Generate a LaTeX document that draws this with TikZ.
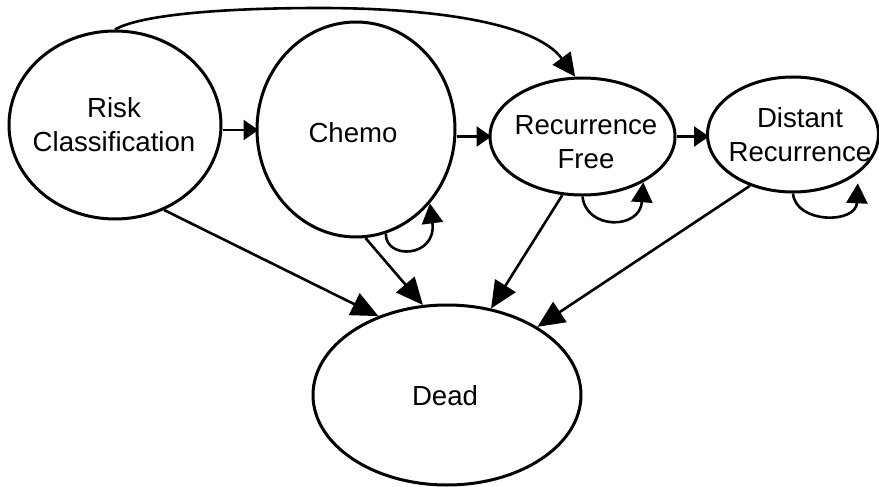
\documentclass[tikz,border=0pt]{standalone}
\usepackage{fontspec}
\setmainfont{Liberation Sans}
\usetikzlibrary{arrows.meta,shapes.geometric,calc}
\pgfdeclarelayer{background}
\pgfsetlayers{background,main}
\begin{document}
\begin{tikzpicture}[x=1pt,y=-1pt,
  state/.style={ellipse,draw=black,line width=3pt,fill=white,inner sep=0pt},
  lbl/.style={font=\fontsize{27.6pt}{34pt}\selectfont,align=center,inner sep=0pt,text=black},
  conn/.style={line width=2.6pt,draw=black},
  htip/.style={conn,-{Triangle[length=15pt,width=20pt]},shorten >=-3pt},
  dtip/.style={conn,-{Triangle[length=27pt,width=24pt]}},
  ctip/.style={conn,-{Triangle[length=23pt,width=22pt]}},
  ltip/.style={conn,-{Triangle[length=20pt,width=21pt]}}
]
\useasboundingbox (0,0) rectangle (879,487);

% states
\node[state,minimum width=212pt,minimum height=188pt] (risk) at (115,125) {};
\node[state,minimum width=198pt,minimum height=215pt] (chemo) at (356,129.5) {};
\node[state,minimum width=185pt,minimum height=117pt] (rf) at (582.5,136.5) {};
\node[state,minimum width=171pt,minimum height=115pt] (dr) at (793,134.5) {};
\node[state,minimum width=268pt,minimum height=180pt] (dead) at (447,395) {};

% labels
\node[lbl] (riskT) at (114,125) {Risk\\Classification};
\node[lbl] (chemoT) at (353,132.5) {Chemo};
\node[lbl] (rfT) at (586,142.5) {Recurrence\\Free};
\node[lbl] (drT) at (800,135) {Distant\\Recurrence};
\node[lbl] (deadT) at (445,396) {Dead};

\coordinate (arcTop) at (320,8);

\begin{pgfonlayer}{background}
  \fill[white] (0,0) rectangle (879,487);
  % horizontal transitions
  \draw[htip] ([yshift=-5pt]risk.east) -- ([yshift=-0.5pt]chemo.west);
  \draw[htip] (chemo.east |- rf.west) -- (rf.west);
  \draw[htip] (rf.east) -- (dr.west |- rf.east);
  % long arc
  \draw[ctip] (risk.north) .. controls (140,15) and (220,8) .. (arcTop)
                           .. controls (430,8) and (535,22) .. (rf.97);
  % self loops
  \draw[ltip] (chemo.-74) .. controls (385,260) and (437,258) .. (chemo.-45.6);
  \draw[ltip] (rf.-90) .. controls (586,230) and (640,230) .. (rf.-37.5);
  \draw[ltip] (dr.-90) .. controls (796,224) and (856,224) .. ($(dr.-33)+(2,8)$);
  % to dead
  \draw[dtip] (risk.-60) -- (dead.131.5);
  \draw[dtip] (chemo.-85) -- (dead.105);
  \draw[dtip] (rf.-109) -- (dead.63);
  \draw[dtip] (dr.-130) -- (dead.37);
\end{pgfonlayer}
\end{tikzpicture}
\end{document}
